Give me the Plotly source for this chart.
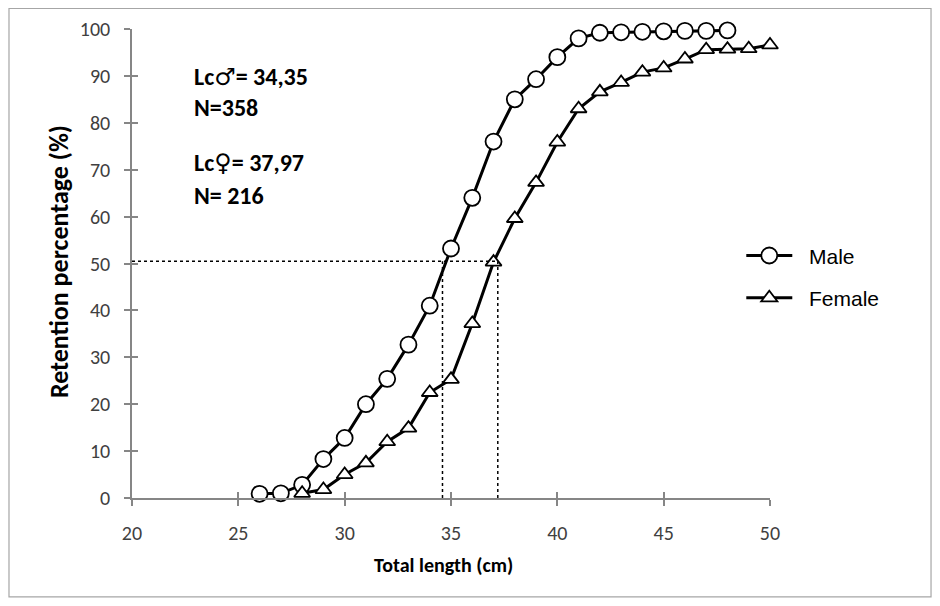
import plotly.graph_objects as go

male_x = [26, 27, 28, 29, 30, 31, 32, 33, 34, 35, 36, 37, 38, 39, 40, 41, 42, 43, 44, 45, 46, 47, 48]
male_y = [0.9, 1.0, 2.8, 8.3, 12.8, 20.0, 25.4, 32.7, 41.0, 53.2, 64.0, 76.0, 85.0, 89.3, 94.0, 98.0, 99.2, 99.3, 99.4, 99.5, 99.6, 99.6, 99.7]

female_x = [28, 29, 30, 31, 32, 33, 34, 35, 36, 37, 38, 39, 40, 41, 42, 43, 44, 45, 46, 47, 48, 49, 50]
female_y = [1.0, 1.8, 5.0, 7.5, 12.0, 14.9, 22.5, 25.3, 37.2, 50.3, 59.6, 67.3, 75.9, 83.0, 86.6, 88.6, 90.8, 91.7, 93.6, 95.6, 95.7, 95.8, 96.6]

lc_x = [34.6, 37.2]
lc_y = 50.5

x_ticks = [20, 25, 30, 35, 40, 45, 50]
y_ticks = [0, 10, 20, 30, 40, 50, 60, 70, 80, 90, 100]

annot_text = ["Lc<span style='font-family:DejaVu Sans'>\u2642</span>= 34,35", "N=358",
              "Lc<span style='font-family:DejaVu Sans'>\u2640</span>= 37,97", "N= 216"]
annot_y = [89.8, 83.2, 71.6, 64.4]

series_names = ["Male", "Female"]

FONT = "Carlito, Lato, Open Sans, sans-serif"
PAD = "\u00a0\u00a0"

fig = go.Figure()
fig.add_trace(go.Scatter(
    x=male_x, y=male_y, name=PAD + series_names[0], mode="lines+markers", legendgroup="m", cliponaxis=False,
    line=dict(color="black", width=3),
    marker=dict(symbol="circle", size=16, color="white", line=dict(color="black", width=1.8)),
))
fig.add_trace(go.Scatter(
    x=female_x, y=female_y, name=PAD + series_names[1], mode="lines+markers", legendgroup="f", cliponaxis=False,
    line=dict(color="black", width=3),
    marker=dict(symbol="triangle-up", size=14, color="white", line=dict(color="black", width=1.8)),
))
# overlay axes carrying inside ticks so that ticks cross the axis lines
fig.add_trace(go.Scatter(x=[None], y=[None], xaxis="x2", yaxis="y2", showlegend=False, hoverinfo="skip"))

shapes = []
shapes.append(dict(type="line", xref="x", yref="y", x0=20, x1=lc_x[1], y0=lc_y, y1=lc_y,
                   line=dict(color="black", width=1.5, dash="dot")))
for lx in lc_x:
    shapes.append(dict(type="line", xref="x", yref="y", x0=lx, x1=lx, y0=0, y1=lc_y,
                       line=dict(color="black", width=1.5, dash="dot")))
shapes.append(dict(type="rect", xref="paper", yref="paper", x0=-0.1928, x1=1.2524, y0=-0.211, y1=1.0438,
                   line=dict(color="#a6a6a6", width=1.2), fillcolor="rgba(0,0,0,0)", layer="below"))

annotations = []
for txt, yv in zip(annot_text, annot_y):
    annotations.append(dict(x=22.8, y=yv, xref="x", yref="y", text=f"<b>{txt}</b>", showarrow=False,
                            xanchor="left", yanchor="middle",
                            font=dict(family=FONT, size=24, color="black")))
annotations.append(dict(x=0.488, y=-0.143, xref="paper", yref="paper", text="<b>Total length (cm)</b>",
                        showarrow=False, xanchor="center", yanchor="middle",
                        font=dict(family=FONT, size=20, color="black")))
annotations.append(dict(x=-0.1144, y=0.503, xref="paper", yref="paper", text="<b>Retention percentage (%)</b>",
                        showarrow=False, xanchor="center", yanchor="middle", textangle=-90,
                        font=dict(family=FONT, size=26, color="black")))

axis_common = dict(showgrid=False, zeroline=False, showline=True, linecolor="#868686", linewidth=1.5,
                   tickcolor="#868686", tickwidth=1.5, ticklen=6, automargin=False)

fig.update_layout(
    width=940, height=606,
    paper_bgcolor="white", plot_bgcolor="white",
    margin=dict(l=124, r=178, t=21, b=116, autoexpand=False),
    xaxis=dict(range=[20, 50], tickvals=x_ticks, ticks="outside", ticklabelstandoff=10,
               tickfont=dict(family=FONT, size=20, color="#404040"), **axis_common),
    yaxis=dict(range=[0, 100], tickvals=y_ticks, ticks="outside", ticklabelstandoff=10,
               tickfont=dict(family=FONT, size=20, color="#404040"), **axis_common),
    xaxis2=dict(range=[20, 50], tickvals=x_ticks, ticks="inside", overlaying="x", showticklabels=False,
                **axis_common),
    yaxis2=dict(range=[0, 100], tickvals=y_ticks, ticks="inside", overlaying="y", showticklabels=False,
                **axis_common),
    legend=dict(x=0.955, y=0.56, xanchor="left", yanchor="top", bgcolor="rgba(0,0,0,0)",
                font=dict(family="Liberation Sans, Arial, sans-serif", size=21, color="black"),
                tracegroupgap=12, itemwidth=46),
    shapes=shapes,
    annotations=annotations,
    showlegend=True,
)

fig.write_html("out.html")
